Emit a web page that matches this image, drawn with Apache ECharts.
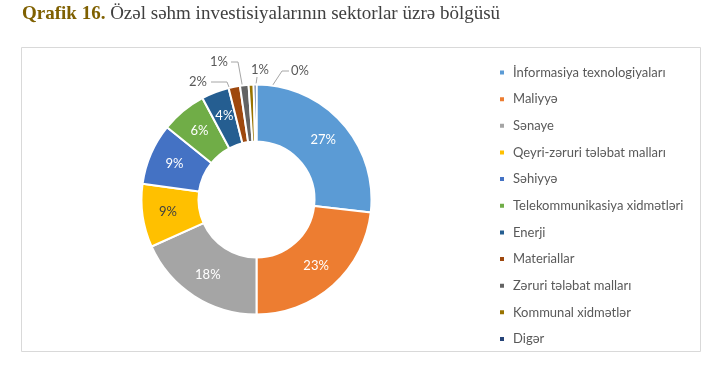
<!DOCTYPE html>
<html>
<head>
<meta charset="utf-8">
<script src="https://cdn.jsdelivr.net/npm/echarts@6/dist/echarts.min.js"></script>
<style>html,body{margin:0;padding:0;background:#fff;}#c{width:726px;height:382px;}</style>
</head>
<body>
<div id="c"></div>
<script>
const categories = ['İnformasiya texnologiyaları','Maliyyə','Sənaye','Qeyri-zəruri tələbat malları','Səhiyyə','Telekommunikasiya xidmətləri','Enerji','Materiallar','Zəruri tələbat malları','Kommunal xidmətlər','Digər'];
const shares = [26.8, 23.2, 18.3, 8.9, 8.6, 6.4, 3.9, 1.6, 1.2, 0.7, 0.4];
const colors = ['#5B9BD5','#ED7D31','#A5A5A5','#FFC000','#4472C4','#70AD47','#255E91','#9E480E','#636363','#997300','#264478'];
const titleBold = 'Qrafik 16.';
const titleText = 'Özəl səhm investisiyalarının sektorlar üzrə bölgüsü';

const FONT = 'Lato';
const outsideIdx = [7, 8, 9, 10];
// label anchor (text centre) and elbow points for the small outside labels
const outsideLabels = {
  7: {x: 198, y: 82, pts: [[227, 82], [211, 82]]},
  8: {x: 219, y: 62, pts: [[238, 62], [231, 62]]},
  9: {x: 260, y: 70, pts: [[257, 77]]},
  10: {x: 300, y: 71, pts: [[282, 71], [289, 71]]}
};

const data = categories.map((name, i) => {
  const outside = outsideIdx.indexOf(i) >= 0;
  return {
    name: name,
    value: shares[i],
    itemStyle: {color: colors[i]},
    label: outside
      ? {position: 'outside', color: '#595959'}
      : {position: 'inside', color: i === 3 ? '#404040' : '#ffffff'},
    labelLine: {show: outside}
  };
});

const chart = echarts.init(document.getElementById('c'), null, {renderer: 'canvas'});
chart.setOption({
  animation: false,
  backgroundColor: '#ffffff',
  title: {
    text: '{b|' + titleBold + '} ' + titleText,
    left: 22, top: 5, padding: 0,
    textStyle: {
      fontFamily: 'Liberation Serif', fontSize: 19, fontWeight: 'normal', color: '#404040',
      rich: {b: {fontFamily: 'Liberation Serif', fontSize: 19, fontWeight: 'bold', color: '#7F6000'}}
    }
  },
  graphic: [{
    type: 'rect', shape: {x: 21.5, y: 47.5, width: 679, height: 304},
    style: {fill: 'none', stroke: '#d9d9d9', lineWidth: 1}, silent: true, z: -1
  }],
  legend: {
    orient: 'vertical', left: 493, top: 59.5,
    icon: 'rect', itemWidth: 6, itemHeight: 6, itemGap: 10.65,
    textStyle: {fontFamily: FONT, fontSize: 13, color: '#595959', lineHeight: 16, padding: [0, 0, 0, 3]},
    data: categories
  },
  series: [{
    type: 'pie',
    center: [256.5, 199.5],
    radius: [58, 115],
    startAngle: 90,
    clockwise: true,
    avoidLabelOverlap: false,
    itemStyle: {borderColor: '#ffffff', borderWidth: 2},
    label: {
      fontFamily: FONT, fontSize: 13,
      formatter: p => Math.round(p.percent) + '%'
    },
    labelLine: {length: 10, length2: 10, lineStyle: {color: '#a6a6a6', width: 1}},
    labelLayout: function (params) {
      const o = outsideLabels[params.dataIndex];
      if (!o) return {};
      const lp = params.labelLinePoints;
      let start = lp ? lp[0] : null;
      if (lp) {
        const dx = lp[1][0] - lp[0][0], dy = lp[1][1] - lp[0][1];
        const len = Math.sqrt(dx * dx + dy * dy) || 1;
        start = [lp[0][0] - dx / len * 27, lp[0][1] - dy / len * 27];
      }
      const res = {x: o.x, y: o.y, align: 'center', verticalAlign: 'middle'};
      if (start) res.labelLinePoints = [start].concat(o.pts);
      return res;
    },
    data: data
  }]
});
</script>
</body>
</html>
